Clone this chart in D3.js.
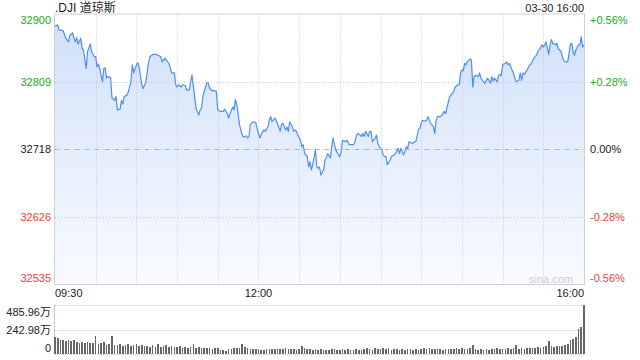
<!DOCTYPE html>
<html>
<head>
<meta charset="utf-8">
<script src="https://cdn.jsdelivr.net/npm/d3@7"></script>
<style>
  html, body { margin: 0; padding: 0; background: #fff; }
  svg text { font-family: "Liberation Sans", Arial, "Noto Sans CJK SC", sans-serif; font-size: 11px; }
</style>
</head>
<body>
<svg id="chart" width="640" height="360"></svg>
<script>
// price axis labels (left) and percent labels (right)
const priceTicks = [32900, 32809, 32718, 32626, 32535];
const pctLabels = ['+0.56%', '+0.28%', '0.00%', '-0.28%', '-0.56%'];
const prevClose = 32718;

// time labels, minutes after 09:30
const timeTicks = [0, 150, 390];
const timeLabels = ['09:30', '12:00', '16:00'];

// intraday trace: minute offset and index level
const minutes = [0,2,3,5,6,8,10,11,13,14,15,16,17,19,20,21,23,24,26,27,29,30,31,32,33,35,36,37,38,39,
  41,42,44,45,46,48,49,50,51,53,54,56,57,58,59,61,62,64,65,67,69,70,72,74,76,78,79,81,83,84,
  86,88,89,90,91,93,94,96,97,99,100,101,103,104,106,107,108,109,111,112,113,114,116,117,119,120,122,124,125,127,
  128,129,131,132,133,134,135,136,138,139,141,142,143,144,146,148,149,151,152,154,155,157,158,159,160,162,163,165,166,167,
  168,170,171,172,173,175,176,177,178,179,181,182,183,184,186,187,188,189,190,192,193,194,195,196,198,199,200,201,203,204,
  205,206,207,209,210,211,212,214,215,216,217,218,220,221,222,223,225,226,227,228,229,231,232,233,234,236,237,238,239,241,
  242,243,244,245,247,248,249,250,252,253,254,255,257,258,259,260,261,263,264,265,266,268,269,270,271,273,274,275,276,277,
  279,280,281,282,284,285,286,287,288,290,291,292,294,295,297,298,299,300,301,302,303,304,306,307,308,309,310,312,313,314,
  316,317,318,319,321,322,323,324,326,327,328,329,330,332,333,334,335,337,338,339,340,342,343,344,345,346,348,350,351,353,
  354,355,356,358,359,360,361,362,364,365,366,367,369,370,371,372,373,375,376,377,378,380,381,382,383,384,386,387,388,389,390];

const prices = [32884,32886,32879,32879,32878,32868,32863,32872,32875,32868,32863,32869,32860,32868,32854,32852,32827,32850,32860,32850,
  32843,32843,32829,32833,32827,32809,32827,32828,32814,32816,32815,32787,32784,32789,32771,32772,32784,32779,32789,32791,
  32795,32809,32832,32821,32827,32835,32829,32805,32800,32809,32836,32843,32846,32846,32845,32843,32836,32841,32836,32834,
  32821,32821,32805,32802,32805,32802,32805,32804,32798,32798,32809,32818,32789,32773,32764,32771,32773,32789,32802,32808,
  32807,32800,32797,32797,32796,32771,32769,32769,32772,32766,32760,32766,32775,32771,32785,32778,32766,32751,32737,32734,
  32736,32733,32735,32751,32755,32754,32746,32733,32738,32744,32742,32748,32757,32762,32755,32760,32757,32748,32742,32751,
  32753,32744,32748,32742,32755,32748,32742,32744,32742,32737,32730,32721,32724,32712,32708,32694,32701,32690,32697,32717,
  32694,32692,32694,32683,32690,32703,32706,32712,32706,32721,32733,32724,32717,32710,32708,32715,32730,32728,32730,32728,
  32724,32724,32724,32727,32735,32739,32737,32735,32739,32735,32742,32735,32742,32742,32728,32733,32737,32726,32721,32717,
  32710,32708,32708,32697,32703,32708,32709,32710,32715,32719,32712,32719,32710,32715,32721,32719,32728,32726,32726,32728,
  32728,32744,32746,32753,32757,32756,32757,32762,32757,32753,32748,32739,32757,32762,32762,32763,32766,32769,32766,32782,
  32789,32791,32796,32802,32805,32805,32821,32825,32824,32834,32832,32836,32840,32838,32802,32816,32818,32816,32821,32814,
  32809,32807,32811,32814,32807,32816,32810,32814,32809,32818,32819,32817,32832,32834,32836,32832,32834,32825,32821,32814,
  32809,32811,32821,32811,32821,32819,32825,32832,32833,32841,32843,32845,32850,32855,32859,32856,32859,32863,32846,32859,
  32866,32861,32859,32861,32854,32852,32850,32838,32836,32836,32836,32860,32861,32850,32845,32852,32859,32859,32870,32856,32859];

// volume per two-minute bar, in 万
const volumes = [165,160,135,140,130,138,125,135,115,110,118,112,115,108,110,182,100,105,115,90,
  95,175,92,85,95,80,88,95,78,85,100,80,90,75,82,70,88,72,98,65,
  78,90,68,80,72,65,75,62,70,60,68,100,58,65,55,62,58,60,52,58,
  55,40,35,30,45,50,60,58,55,100,70,55,48,52,45,50,42,40,45,52,
  48,50,45,52,48,55,50,45,48,42,50,80,55,45,50,40,48,42,45,40,
  42,38,45,50,42,38,45,40,48,42,38,45,42,40,48,62,45,42,55,45,
  50,62,48,55,42,50,45,40,48,38,45,50,42,48,40,45,55,50,58,52,
  48,45,50,42,48,45,52,48,55,50,58,52,48,55,90,45,42,48,40,45,
  42,50,45,55,48,52,50,55,52,58,85,50,55,48,58,55,62,58,65,60,
  70,75,125,80,65,78,82,75,85,95,135,150,165,245,270,485.96];
const volTicks = [485.96, 242.98, 0];
const volLabels = ['485.96万', '242.98万', '0'];

const plotLeft = 55, plotRight = 584, plotTop = 14.5, plotBottom = 284.5;
const volTop = 305, volBottom = 354;

const svg = d3.select('#chart');

const x = d3.scaleLinear().domain([0, 390]).range([plotLeft, plotRight]);
const y = d3.scaleLinear().domain([32535, 32900]).range([plotBottom, plotTop]);
const yv = d3.scaleLinear().domain([0, 485.96]).range([volBottom, volTop]);

const series = minutes.map((m, i) => ({ m, p: prices[i] }));

// gradient for area fill
const defs = svg.append('defs');
const grad = defs.append('linearGradient')
  .attr('id', 'areaGrad')
  .attr('gradientUnits', 'userSpaceOnUse')
  .attr('x1', 0).attr('y1', plotTop).attr('x2', 0).attr('y2', plotBottom);
grad.append('stop').attr('offset', '0%').attr('stop-color', '#d0e0f9');
grad.append('stop').attr('offset', '100%').attr('stop-color', '#f9fbff');

// area under the line
svg.append('path')
  .datum(series)
  .attr('fill', 'url(#areaGrad)')
  .attr('d', d3.area().x(d => x(d.m)).y0(plotBottom).y1(d => y(d.p)));

// vertical grid (every half hour)
svg.append('g')
  .selectAll('line')
  .data(d3.range(30, 390, 30))
  .join('line')
  .attr('x1', d => Math.round(x(d)) + 0.5).attr('x2', d => Math.round(x(d)) + 0.5)
  .attr('y1', plotTop).attr('y2', plotBottom)
  .attr('stroke', '#c8c8c8')
  .attr('stroke-dasharray', '1,2');

// horizontal grid
svg.append('g')
  .selectAll('line')
  .data([priceTicks[1], priceTicks[2], priceTicks[3]])
  .join('line')
  .attr('x1', plotLeft).attr('x2', plotRight)
  .attr('y1', d => Math.round(y(d)) + 0.5).attr('y2', d => Math.round(y(d)) + 0.5)
  .attr('stroke', '#c8c8c8')
  .attr('stroke-dasharray', '1,2');

// previous close line
svg.append('line')
  .attr('x1', plotLeft).attr('x2', plotRight)
  .attr('y1', Math.round(y(prevClose)) + 0.5).attr('y2', Math.round(y(prevClose)) + 0.5)
  .attr('stroke', '#e9a184')
  .attr('stroke-dasharray', '4,6');

// frame
svg.append('rect')
  .attr('x', plotLeft - 0.5).attr('y', plotTop - 0.5)
  .attr('width', plotRight - plotLeft + 1).attr('height', plotBottom - plotTop + 0.5)
  .attr('fill', 'none')
  .attr('stroke', '#d0d0d0');

// price line
svg.append('path')
  .datum(series)
  .attr('fill', 'none')
  .attr('stroke', '#4f8ef2')
  .attr('stroke-width', 1.2)
  .attr('stroke-linejoin', 'round')
  .attr('d', d3.line().x(d => x(d.m)).y(d => y(d.p)));

// watermark
svg.append('text')
  .attr('x', 573).attr('y', 283)
  .attr('text-anchor', 'end')
  .attr('fill', '#cfcfcf')
  .text('sina.com');

const colorFor = v => v > prevClose ? '#22aa22' : v < prevClose ? '#f03c3c' : '#222';
const labelDy = i => i === 0 ? 9.5 : i === priceTicks.length - 1 ? -3 : 4;

// left price labels
svg.append('g')
  .selectAll('text')
  .data(priceTicks)
  .join('text')
  .attr('x', 51)
  .attr('y', (d, i) => y(d) + labelDy(i))
  .attr('text-anchor', 'end')
  .attr('fill', colorFor)
  .text(d => d);

// right percent labels
svg.append('g')
  .selectAll('text')
  .data(priceTicks)
  .join('text')
  .attr('x', 590)
  .attr('y', (d, i) => y(d) + labelDy(i))
  .attr('fill', colorFor)
  .text((d, i) => pctLabels[i]);

// title and timestamp
svg.append('text')
  .attr('x', 55).attr('y', 12)
  .attr('fill', '#222')
  .style('font-size', '12px')
  .text('.DJI 道琼斯');
svg.append('text')
  .attr('x', 584).attr('y', 12)
  .attr('text-anchor', 'end')
  .attr('fill', '#222')
  .text('03-30 16:00');

// time labels
svg.append('g')
  .selectAll('text')
  .data(timeTicks)
  .join('text')
  .attr('x', d => x(d))
  .attr('y', 297)
  .attr('text-anchor', (d, i) => i === 0 ? 'start' : i === timeTicks.length - 1 ? 'end' : 'middle')
  .attr('fill', '#222')
  .text((d, i) => timeLabels[i]);

// volume panel grid
svg.append('g')
  .selectAll('line')
  .data([volTicks[0], volTicks[1], 0])
  .join('line')
  .attr('x1', plotLeft).attr('x2', plotRight)
  .attr('y1', d => Math.round(yv(d)) + 0.5).attr('y2', d => Math.round(yv(d)) + 0.5)
  .attr('stroke', '#c8c8c8')
  .attr('stroke-dasharray', '1,1');
svg.append('line')
  .attr('x1', plotLeft - 0.5).attr('x2', plotLeft - 0.5)
  .attr('y1', volTop).attr('y2', volBottom)
  .attr('stroke', '#c8c8c8');
svg.append('line')
  .attr('x1', plotRight + 0.5).attr('x2', plotRight + 0.5)
  .attr('y1', volTop).attr('y2', volBottom)
  .attr('stroke', '#d0d0d0')
  .attr('stroke-dasharray', '1,1');

// volume bars
svg.append('g')
  .attr('shape-rendering', 'crispEdges')
  .selectAll('rect')
  .data(volumes)
  .join('rect')
  .attr('x', (d, i) => x(i * 2) - 0.8)
  .attr('width', 1.6)
  .attr('y', d => yv(d))
  .attr('height', d => volBottom - yv(d))
  .attr('fill', '#666');

// volume labels
svg.append('g')
  .selectAll('text')
  .data(volTicks)
  .join('text')
  .attr('x', 51)
  .attr('y', (d, i) => yv(d) + (i === 0 ? 11 : i === volTicks.length - 1 ? -2 : 4))
  .attr('text-anchor', 'end')
  .attr('fill', '#222')
  .text((d, i) => volLabels[i]);
</script>
</body>
</html>
